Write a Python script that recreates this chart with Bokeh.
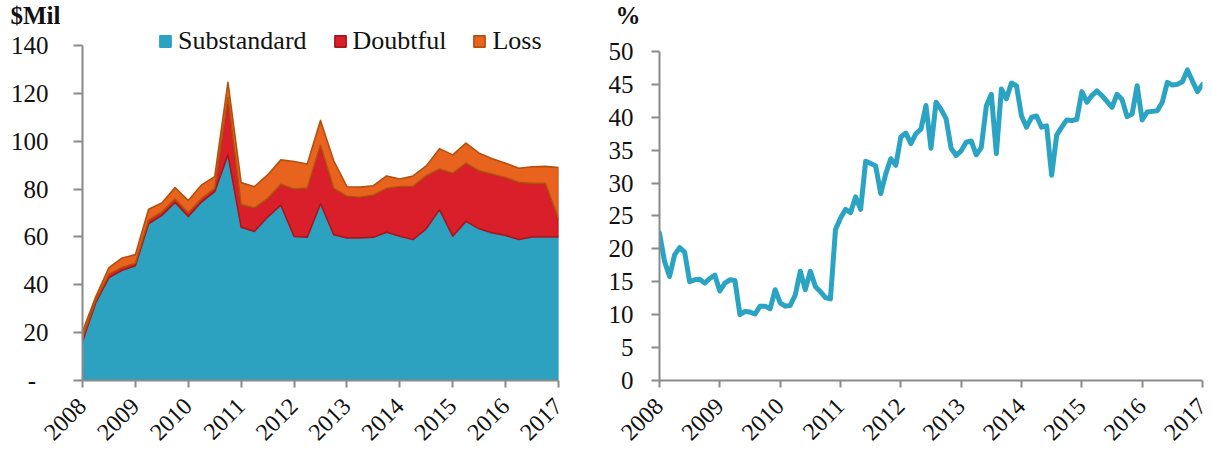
import math
from bokeh.plotting import figure
from bokeh.layouts import row
from bokeh.models import Range1d, FixedTicker, Legend, LegendItem
from bokeh.embed import file_html
from bokeh.resources import INLINE

# ---------------- data ----------------
year_ticks = [2008, 2009, 2010, 2011, 2012, 2013, 2014, 2015, 2016, 2017]

# quarterly criticized assets, $ millions (Q1 2008 .. Q1 2017)
substandard = [16.3, 32.5, 43.0, 46.1, 48.0, 65.5, 69.0, 74.4, 68.6, 74.6, 78.9, 94.3,
               64.1, 62.3, 68.3, 73.3, 60.2, 59.9, 73.9, 60.9, 59.6, 59.6, 59.9, 62.0,
               60.3, 58.9, 63.4, 71.4, 60.3, 66.5, 63.4, 61.7, 60.6, 58.9, 60.0, 60.0, 60.0]
doubtful = [1.5, 1.0, 1.4, 1.1, 1.0, 1.5, 1.4, 1.4, 1.5, 1.4, 1.4, 23.9,
            9.4, 9.8, 7.7, 8.7, 19.8, 20.5, 24.4, 19.4, 17.4, 17.0, 17.6, 18.3,
            20.8, 22.2, 22.2, 17.0, 26.3, 24.3, 24.2, 24.5, 24.2, 23.9, 22.4, 22.4, 7.6]
loss = [2.7, 1.5, 2.8, 4.0, 3.6, 4.6, 3.8, 4.8, 5.1, 5.7, 4.9, 6.4,
        9.2, 8.9, 9.9, 10.2, 11.5, 10.1, 10.4, 11.5, 4.0, 4.2, 3.9, 5.2,
        3.1, 4.4, 4.1, 8.5, 7.7, 8.4, 7.4, 6.5, 6.0, 5.9, 6.9, 7.1, 21.4]

# monthly ratio, % (Jan 2008 .. Jan 2017)
pct = [22.4, 18.1, 15.8, 19.1, 20.2, 19.5, 15.0, 15.3, 15.4, 14.8, 15.5, 16.0,
       13.6, 14.8, 15.3, 15.2, 10.0, 10.5, 10.4, 10.1, 11.3, 11.3, 10.9, 13.8,
       11.8, 11.3, 11.4, 13.0, 16.6, 13.8, 16.6, 14.3, 13.5, 12.6, 12.4, 22.9,
       24.7, 26.0, 25.5, 27.9, 26.0, 33.3, 33.0, 32.6, 28.4, 31.4, 33.7, 32.7,
       37.0, 37.6, 36.0, 37.5, 38.2, 41.8, 35.3, 42.3, 41.2, 39.8, 35.3, 34.2,
       34.9, 36.2, 36.4, 34.3, 35.4, 41.7, 43.5, 34.5, 44.3, 42.8, 45.2, 44.8,
       40.2, 38.5, 40.0, 40.2, 38.5, 38.7, 31.2, 37.3, 38.5, 39.6, 39.5, 39.7,
       43.9, 42.3, 43.3, 44.0, 43.3, 42.4, 41.5, 43.5, 42.7, 40.1, 40.5, 44.8,
       39.6, 40.8, 40.9, 41.0, 42.3, 45.3, 44.9, 45.0, 45.4, 47.2, 45.5, 43.9, 45.0]

left_yticks = [0, 20, 40, 60, 80, 100, 120, 140]
right_yticks = [0, 5, 10, 15, 20, 25, 30, 35, 40, 45, 50]

series_names = ["Substandard", "Doubtful", "Loss"]
fill_colors = ["#2CA2C0", "#D91F2A", "#E8641E"]
edge_colors = ["#2CA2C0", "#A8161D", "#B4500E"]
line_color = "#2BA3C2"

FONT = "Liberation Serif"
AXIS_GRAY = "#8A8A8A"
TEXT = "#111111"

# x positions (time axis)
xq = [year_ticks[0] + i / 4 for i in range(len(substandard))]
xm = [year_ticks[0] + i / 12 for i in range(len(pct))]


def style_axes(p, ytick_out, xtick_out, ystand):
    for ax in (p.xaxis[0], p.yaxis[0]):
        ax.axis_line_color = AXIS_GRAY
        ax.axis_line_width = 2
        ax.major_tick_line_color = AXIS_GRAY
        ax.major_tick_line_width = 2
        ax.major_tick_in = 0
        ax.minor_tick_line_color = None
        ax.major_label_text_font = FONT
        ax.major_label_text_color = TEXT
    p.yaxis[0].major_tick_out = ytick_out
    p.xaxis[0].major_tick_out = xtick_out
    p.yaxis[0].major_label_text_font_size = "25px"
    p.yaxis[0].major_label_standoff = ystand
    p.xaxis[0].major_label_text_font_size = "24px"
    p.xaxis[0].major_label_orientation = math.pi / 4
    p.xaxis[0].major_label_standoff = 15
    p.xaxis[0].ticker = FixedTicker(ticks=year_ticks)
    p.xgrid.visible = False
    p.ygrid.visible = False
    p.outline_line_color = None


def style_title(p, offset):
    t = p.title
    t.align = "left"
    t.offset = offset
    t.standoff = -9
    t.text_font = FONT
    t.text_font_size = "25px"
    t.text_font_style = "bold"
    t.text_color = TEXT


# ---------------- left: stacked area ----------------
p1 = figure(title="$Mil", frame_width=476, frame_height=356,
            min_border_left=82, min_border_top=24, min_border_right=40, min_border_bottom=20,
            x_range=Range1d(year_ticks[0], year_ticks[-1]), y_range=Range1d(0, 148.78),
            output_backend="svg", toolbar_location=None)

bottom = [0.0] * len(xq)
layers = [substandard, doubtful, loss]
items = []
for name, vals, fc, ec in zip(series_names, layers, fill_colors, edge_colors):
    top = [b + v for b, v in zip(bottom, vals)]
    xs = xq + xq[::-1]
    ys = top + bottom[::-1]
    r = p1.patch(xs, ys, fill_color=fc, line_color=ec, line_width=1.6, line_join="round")
    items.append(LegendItem(label=name, renderers=[r]))
    bottom = top

legend = Legend(items=items, orientation="horizontal", location=(76, 324),
                label_text_font=FONT, label_text_font_size="26px", label_text_color=TEXT,
                glyph_width=14, glyph_height=14, label_standoff=6, spacing=26,
                padding=0, margin=0, background_fill_alpha=0, border_line_color=None)
p1.add_layout(legend, "center")

style_axes(p1, ytick_out=9, xtick_out=7, ystand=25)
p1.yaxis[0].ticker = FixedTicker(ticks=left_yticks)
p1.yaxis[0].bounds = (left_yticks[0], left_yticks[-1])
p1.yaxis[0].major_label_overrides = {0: "-\u00a0\u00a0"}
style_title(p1, -72)

# ---------------- right: line ----------------
p2 = figure(title="%", frame_width=543, frame_height=356,
            min_border_left=61, min_border_top=24, min_border_right=8, min_border_bottom=20,
            x_range=Range1d(year_ticks[0], year_ticks[-1]), y_range=Range1d(0, 54.10),
            output_backend="svg", toolbar_location=None)
p2.line(xm, pct, line_color=line_color, line_width=5, line_join="round", line_cap="round")
style_axes(p2, ytick_out=8, xtick_out=7, ystand=18)
p2.yaxis[0].ticker = FixedTicker(ticks=right_yticks)
p2.yaxis[0].bounds = (right_yticks[0], right_yticks[-1])
style_title(p2, -44)

layout = row(p1, p2)
open("out.html", "w").write(file_html(layout, INLINE))
